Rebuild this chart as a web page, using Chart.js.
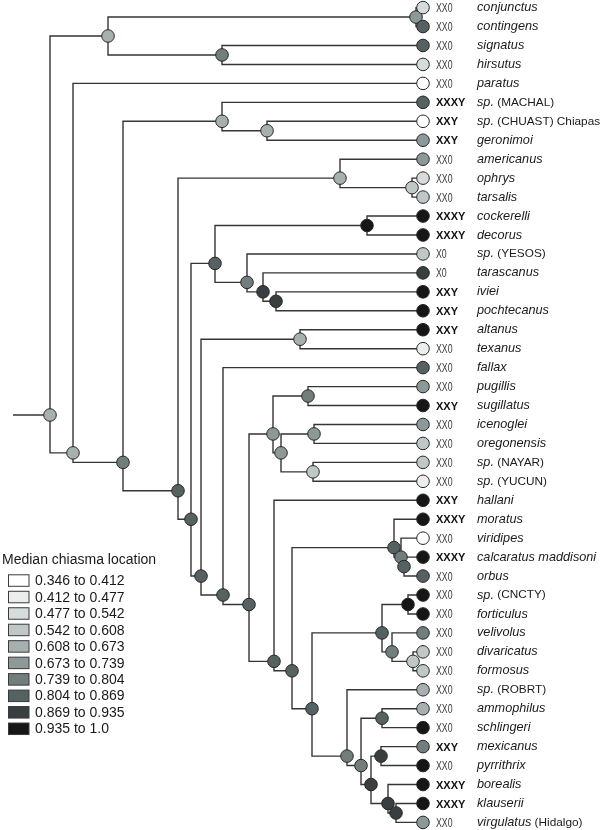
<!DOCTYPE html>
<html><head><meta charset="utf-8">
<script src="https://cdn.jsdelivr.net/npm/chart.js@4/dist/chart.umd.min.js"></script>
<style>html,body{margin:0;padding:0;background:#fff}#wrap{width:600px;height:830px;position:relative}</style>
</head><body><div id="wrap"><canvas id="c"></canvas></div>
<script>
// ---- DATA ----
const tipNames = ["conjunctus","contingens","signatus","hirsutus","paratus","sp. (MACHAL)","sp. (CHUAST) Chiapas","geronimoi","americanus","ophrys","tarsalis","cockerelli","decorus","sp. (YESOS)","tarascanus","iviei","pochtecanus","altanus","texanus","fallax","pugillis","sugillatus","icenoglei","oregonensis","sp. (NAYAR)","sp. (YUCUN)","hallani","moratus","viridipes","calcaratus maddisoni","orbus","sp. (CNCTY)","forticulus","velivolus","divaricatus","formosus","sp. (ROBRT)","ammophilus","schlingeri","mexicanus","pyrrithrix","borealis","klauserii","virgulatus (Hidalgo)"];
const tipKaryotypes = ["XX0","XX0","XX0","XX0","XX0","XXXY","XXY","XXY","XX0","XX0","XX0","XXXY","XXXY","X0","X0","XXY","XXY","XXY","XX0","XX0","XX0","XXY","XX0","XX0","XX0","XX0","XXY","XXXY","XX0","XXXY","XX0","XX0","XX0","XX0","XX0","XX0","XX0","XX0","XX0","XXY","XX0","XXXY","XXXY","XX0"];
const tipStates = [2,7,7,2,0,7,0,5,5,2,3,9,9,3,8,9,9,9,1,7,5,9,5,3,3,1,9,9,0,9,7,9,9,6,3,3,4,4,9,6,9,9,9,5];
const tipParents = [2,2,3,3,4,6,7,7,9,10,10,13,13,14,15,16,16,18,18,19,22,22,24,24,25,25,26,28,29,30,30,33,33,34,35,35,36,38,38,40,40,41,42,42];
// internal nodes (index 0 = root)
const nodeParents = [-1,0,1,1,0,4,5,6,5,8,9,8,11,12,12,14,15,11,17,17,19,20,21,21,23,23,20,26,27,28,29,27,31,32,32,34,31,36,37,37,39,39,41];
const nodeDepths  = [50,108,416,222,73,123,222,267,178,340,412,191,215,367,247,263,276,201,300,223,249,273,308,281,314,313,274,292,394,401,404,312,382,408,392,413,347,361,382,371,381,388,396];
const nodeStates  = [4,4,5,6,4,6,4,4,7,4,3,7,7,9,6,8,8,7,4,7,7,5,6,5,5,3,7,7,7,6,7,7,7,9,6,3,6,6,7,8,8,8,8];
const tipDepth = 423;
const rootStemStart = 13;
const legendTitle = "Median chiasma location";
const legendLabels = ["0.346 to 0.412","0.412 to 0.477","0.477 to 0.542","0.542 to 0.608","0.608 to 0.673","0.673 to 0.739","0.739 to 0.804","0.804 to 0.869","0.869 to 0.935","0.935 to 1.0"];
// ---- STYLE ----
const stateColors = ["#ffffff","#eceeee","#d6dbdb","#c0c7c7","#a7b0b0","#8d9898","#727d7d","#566161","#393e40","#161616"];
const FONT = '"Liberation Sans", Arial, Helvetica, sans-serif';

// ---- derived node y = mean of descendant tip rows ----
const nN = nodeParents.length;
const sums = new Array(nN).fill(0), counts = new Array(nN).fill(0);
tipParents.forEach((p, i) => { let k = p; while (k >= 0) { sums[k] += i; counts[k]++; k = nodeParents[k]; } });
const nodeY = sums.map((s, k) => s / counts[k]);

const branchSets = [];
function addBranch(pts) {
  branchSets.push({ type: 'scatter', data: pts, showLine: true, borderColor: '#353535', borderWidth: 1.4,
    pointRadius: 0, pointHoverRadius: 0, tension: 0, fill: false, order: 2 });
}
addBranch([{x: rootStemStart, y: nodeY[0]}, {x: nodeDepths[0], y: nodeY[0]}]);
for (let k = 1; k < nN; k++) {
  const p = nodeParents[k];
  addBranch([{x: nodeDepths[p], y: nodeY[p]}, {x: nodeDepths[p], y: nodeY[k]}, {x: nodeDepths[k], y: nodeY[k]}]);
}
tipParents.forEach((p, i) => {
  addBranch([{x: nodeDepths[p], y: nodeY[p]}, {x: nodeDepths[p], y: i}, {x: tipDepth, y: i}]);
});

const pts = [];
for (let k = 0; k < nN; k++) pts.push({x: nodeDepths[k], y: nodeY[k], s: nodeStates[k]});
tipParents.forEach((p, i) => pts.push({x: tipDepth, y: i, s: tipStates[i]}));
pts.sort((a, b) => a.x - b.x);

const labelPlugin = {
  id: 'labels',
  afterDraw(chart) {
    const ctx = chart.ctx, ys = chart.scales.y;
    ctx.save();
    ctx.textBaseline = 'middle';
    tipNames.forEach((name, i) => {
      const y = ys.getPixelForValue(i);
      const kt = tipKaryotypes[i];
      if (kt.indexOf('Y') >= 0) {
        ctx.font = 'bold 11px ' + FONT; ctx.fillStyle = '#111';
        ctx.fillText(kt, 436, y + 1);
      } else {
        ctx.save(); ctx.translate(436, y + 1); ctx.scale(0.7, 1);
        ctx.font = '12.5px ' + FONT; ctx.fillStyle = '#3a3a3a';
        ctx.fillText(kt, 0, 0); ctx.restore();
      }
      const cut = name.indexOf(' (');
      const it = cut >= 0 ? name.slice(0, cut) : name;
      const rm = cut >= 0 ? name.slice(cut) : '';
      ctx.fillStyle = '#1a1a1a';
      ctx.font = 'italic 12.7px ' + FONT;
      ctx.fillText(it, 477, y);
      const w = ctx.measureText(it).width;
      if (rm) { ctx.font = '11.8px ' + FONT; ctx.fillText(rm, 477 + w, y); }
    });
    // legend
    ctx.font = '14px ' + FONT; ctx.fillStyle = '#1a1a1a';
    ctx.fillText(legendTitle, 2, 560);
    legendLabels.forEach((lab, k) => {
      const cy = 580.3 + 16.47 * k;
      ctx.fillStyle = stateColors[k];
      ctx.fillRect(8.5, cy - 5.5, 20.5, 11.5);
      ctx.strokeStyle = '#3a3a3a'; ctx.lineWidth = 1;
      ctx.strokeRect(8.5, cy - 5.5, 20.5, 11.5);
      ctx.fillStyle = '#1a1a1a';
      ctx.fillText(lab, 35, cy + 1);
    });
    ctx.restore();
  }
};

new Chart(document.getElementById('c'), {
  type: 'scatter',
  data: { datasets: [
    { data: pts, order: 1, pointRadius: 6.3, pointHoverRadius: 6.3, pointBorderWidth: 1,
      pointBorderColor: '#262626', pointBackgroundColor: pts.map(p => stateColors[p.s]), showLine: false, clip: false },
    ...branchSets
  ]},
  options: {
    responsive: true, maintainAspectRatio: false, animation: false, events: [],
    layout: { padding: 0, autoPadding: false },
    plugins: { legend: { display: false }, tooltip: { enabled: false } },
    scales: {
      x: { type: 'linear', min: 0, max: 600, display: false },
      y: { type: 'linear', min: -0.4, max: 43.4, reverse: true, display: false }
    }
  },
  plugins: [labelPlugin]
});
</script></body></html>
